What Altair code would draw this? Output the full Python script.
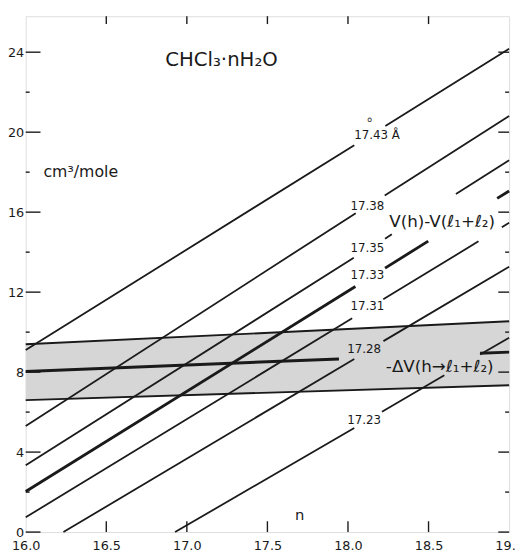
import altair as alt
import pandas as pd

# ---- data ----
# straight lines (one per lattice constant), broken into segments around labels
seg_line = ["17.43", "17.43", "17.38", "17.38", "17.35", "17.35", "17.35",
            "17.33", "17.33", "17.33", "17.31", "17.31", "17.31",
            "17.28", "17.28", "17.23", "17.23", "17.23"]
seg_n0 = [16.0, 18.232, 16.0, 18.228, 16.0, 18.23, 18.67,
          16.0, 18.23, 18.926, 16.0, 18.219, 18.955,
          16.234, 18.22, 16.927, 18.211, 18.82]
seg_v0 = [9.11, 20.31, 5.31, 16.83, 3.34, 14.67, 16.91,
          2.03, 13.20, 16.69, 0.74, 11.64, 15.25,
          0.0, 9.55, 0.0, 6.02, 8.88]
seg_n1 = [18.039, 19.0, 18.048, 19.0, 18.036, 18.272, 19.0,
          18.046, 18.498, 19.0, 18.026, 18.81, 19.0,
          18.039, 19.0, 18.039, 18.598, 19.0]
seg_v1 = [19.35, 24.17, 15.95, 20.81, 13.72, 14.89, 18.59,
          12.28, 14.55, 17.06, 10.69, 14.54, 15.47,
          8.66, 13.27, 5.21, 7.84, 9.72]

# -dV band
band_n = [16.0, 19.0]
band_top = [9.39, 10.54]
band_bottom = [6.60, 7.34]
center_n0 = [16.0, 18.82]
center_v0 = [8.03, 8.94]
center_n1 = [17.944, 19.0]
center_v1 = [8.66, 9.00]

# line labels
label_text = ["17.43 Å", "17.38", "17.35", "17.33", "17.31", "17.28", "17.23"]
label_n = [18.18, 18.12, 18.12, 18.12, 18.12, 18.10, 18.10]
label_v = [19.86, 16.29, 14.21, 12.87, 11.28, 9.15, 5.62]

# axis ticks
y_major = [0, 4, 8, 12, 16, 20, 24]
y_minor = [2, 6, 10, 14, 18, 22]
x_major = [16.5, 17.0, 17.5, 18.0, 18.5]
x_labels = [16.0, 16.5, 17.0, 17.5, 18.0, 18.5, 19.0]

W, H = 491, 524
FONT = "DejaVu Sans"
INK = "#1a1a1a"

segs = pd.DataFrame({"line": seg_line, "n0": seg_n0, "v0": seg_v0,
                     "n1": seg_n1, "v1": seg_v1})
band = pd.DataFrame({"n": band_n, "top": band_top, "bottom": band_bottom})
edges = pd.DataFrame({"n0": [band_n[0], band_n[0]], "v0": [band_top[0], band_bottom[0]],
                      "n1": [band_n[1], band_n[1]], "v1": [band_top[1], band_bottom[1]]})
center = pd.DataFrame({"n0": center_n0, "v0": center_v0, "n1": center_n1, "v1": center_v1})
labels = pd.DataFrame({"t": label_text, "n": label_n, "v": label_v})

xs = alt.Scale(domain=[16.0, 19.0], nice=False, zero=False)
ys = alt.Scale(domain=[0, 25.8], nice=False, zero=False)
xax = alt.Axis(values=x_labels, format=".1f", ticks=False, domain=False, grid=False,
               labelPadding=8, title=None, labelFontSize=13, labelFont=FONT,
               labelColor=INK, labelFlush=False, labelOverlap=False)
yax = alt.Axis(values=y_major, ticks=False, domain=False, grid=False,
               labelPadding=2, title=None, labelFontSize=13, labelFont=FONT,
               labelColor=INK, labelFlush=False, labelOverlap=False)


def X(f):
    return alt.X(f, scale=xs, axis=xax)


def Y(f):
    return alt.Y(f, scale=ys, axis=yax)


band_layer = alt.Chart(band).mark_area(color="#d6d6d6", opacity=1).encode(
    x=X("n:Q"), y=Y("top:Q"), y2="bottom:Q")


def rules(df, width, filt=None):
    c = alt.Chart(df)
    if filt is not None:
        c = c.transform_filter(filt)
    return c.mark_rule(color=INK, strokeWidth=width).encode(
        x=X("n0:Q"), y=Y("v0:Q"), x2="n1:Q", y2="v1:Q")


edge_layer = rules(edges, 2.0)
center_layer = rules(center, 3.0)
thin_layer = rules(segs, 1.8, alt.datum.line != "17.33")
thick_layer = rules(segs, 2.9, alt.datum.line == "17.33")


def yticks(vals, x0, x1):
    return alt.Chart(pd.DataFrame({"v": vals})).mark_rule(color=INK, strokeWidth=1.4).encode(
        y=Y("v:Q"), x=alt.value(x0), x2=alt.value(x1))


def xticks(vals, y0, y1):
    return alt.Chart(pd.DataFrame({"n": vals})).mark_rule(color=INK, strokeWidth=1.4).encode(
        x=X("n:Q"), y=alt.value(y0), y2=alt.value(y1))


tick_layers = [
    yticks(y_major, 0, 15), yticks(y_minor, 0, 4),
    yticks(y_major, W - 11, W), yticks(y_minor, W - 4, W),
    xticks(x_major, 0, 8), xticks(x_major, H - 11, H),
]

label_layer = alt.Chart(labels).mark_text(font=FONT, fontSize=12, color=INK,
                                          align="center", baseline="middle").encode(
    x=X("n:Q"), y=Y("v:Q"), text="t:N")


def note(text, n, v, size, align="left"):
    return alt.Chart(pd.DataFrame({"t": [text], "n": [n], "v": [v]})).mark_text(
        font=FONT, fontSize=size, color=INK, align=align, baseline="middle").encode(
        x=X("n:Q"), y=Y("v:Q"), text="t:N")


notes = [
    note("CHCl₃·nH₂O", 16.866, 23.58, 20),
    note("cm³/mole", 16.11, 18.0, 16),
    note("n", 17.70, 0.85, 15, "center"),
    note("V(h)-V(ℓ₁+ℓ₂)", 18.256, 15.48, 17),
    note("-ΔV(h→ℓ₁+ℓ₂)", 18.235, 8.24, 17),
    note("o", 18.134, 20.62, 8, "center"),
]

chart = alt.layer(
    band_layer, edge_layer, center_layer, thin_layer, thick_layer,
    *tick_layers, label_layer, *notes
).properties(
    width=W, height=H,
    autosize=alt.AutoSizeParams(type="none"),
    padding={"left": 18, "top": 4, "right": 7, "bottom": 22},
).configure_view(stroke=INK, strokeWidth=1.8).configure(background="white")

chart.save("out.html", embed_options={"renderer": "svg", "actions": False})
